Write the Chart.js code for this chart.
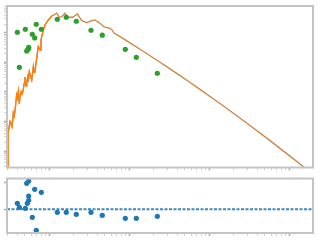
<!DOCTYPE html>
<html>
<head>
<meta charset="utf-8">
<script src="https://cdn.jsdelivr.net/npm/chart.js@4.4.0/dist/chart.umd.min.js"></script>
<style>
html, body { margin: 0; padding: 0; background: #fff; }
#wrap { position: relative; width: 320px; height: 240px; }
canvas { position: absolute; left: 0; top: 0; }
</style>
</head>
<body>
<div id="wrap">
  <canvas id="fitChart" width="320" height="240"></canvas>
  <canvas id="resChart" width="320" height="240"></canvas>
</div>
<script>
// observed points (green)
const obsX = [0.402, 0.426, 0.506, 0.526, 0.536, 0.557, 0.557, 0.618, 0.662, 0.693, 0.802, 1.270, 1.644, 2.193, 3.350, 4.634, 8.99, 12.34, 22.6];
const obsY = [1.056, 0.0687, 1.334, 0.245, 0.265, 0.327, 0.30, 0.904, 0.678, 1.972, 1.334, 2.911, 3.404, 2.494, 1.235, 0.842, 0.280, 0.150, 0.0431];

// model curve
const modelX = [0.303, 0.307, 0.316, 0.326, 0.335, 0.345, 0.358, 0.368, 0.379, 0.394, 0.404, 0.413, 0.426, 0.434, 0.447, 0.460, 0.477, 0.487, 0.501, 0.516,
  0.526, 0.539, 0.546, 0.567, 0.587, 0.608, 0.637, 0.653, 0.668, 0.698, 0.718, 0.735, 0.772, 0.794, 0.811, 0.849, 0.891, 0.980, 1.081, 1.155,
  1.248, 1.345, 1.442, 1.585, 1.742, 1.978, 2.259, 2.563, 2.958, 3.350, 3.758, 4.341, 4.870, 5.787, 6.218, 6.494, 7.716, 10.29, 13.73, 18.30,
  24.41, 32.54, 43.41, 57.87, 77.16, 118.9, 183.0, 325.5, 578.7, 1029, 1585];
const modelY = [1e-5, 4.51e-4, 6.03e-4, 9.84e-4, 8.22e-4, 6.67e-4, 1.94e-3, 1.53e-3, 2.87e-3, 7.91e-3, 6.26e-3, 0.0102, 3.92e-3, 7.31e-3, 0.0102, 8.55e-3, 0.0117, 0.0187, 0.0322, 0.0160,
  0.0202, 0.0299, 0.0218, 0.0488, 0.0348, 0.0255, 0.0721, 0.0476, 0.0557, 0.1216, 0.227, 0.344, 0.265, 0.579, 0.750, 1.264, 1.866, 2.759, 3.770, 4.074,
  4.652, 3.404, 3.570, 4.652, 3.404, 3.404, 4.406, 2.612, 2.234, 2.551, 2.759, 2.132, 1.597, 1.443, 1.216, 1.0, 0.750, 0.460, 0.280, 0.170,
  0.1016, 0.0607, 0.0358, 0.0210, 0.01225, 5.36e-3, 2.31e-3, 7.31e-4, 2.25e-4, 6.71e-5, 2.65e-5];
const noisyCount = 39; // high-res orange part at the start

// residuals (blue)
const resX = [0.402, 0.426, 0.506, 0.526, 0.536, 0.557, 0.557, 0.557, 0.618, 0.662, 0.693, 0.802, 1.270, 1.644, 2.193, 3.350, 4.634, 8.99, 12.34, 22.6];
const resY = [0.226, 0.075, 0.038, 0.977, 0.226, 1.064, 0.338, 0.5, -0.301, 0.752, -0.789, 0.639, -0.113, -0.113, -0.188, -0.113, -0.226, -0.338, -0.338, -0.263];

// axes
const xMin = 0.2985, xMax = 1995;
const yMin = 2.76e-5, yMax = 8.2;
const resMin = -0.89, resMax = 1.16;
const xDecades = [0.1, 1, 10, 100, 1000];
const yDecades = [1e-5, 1e-4, 1e-3, 1e-2, 0.1, 1];
const resTicks = [0, 1];

function logTicks(decades, lo, hi) {
  const out = [];
  decades.forEach(d => {
    for (let m = 1; m < 10; m++) {
      const v = d * m;
      if (v >= lo && v <= hi) out.push({value: v, major: m === 1});
    }
  });
  return out;
}

const pts = (xs, ys) => xs.map((x, i) => ({x: x, y: ys[i]}));

const framePlugin = {
  id: 'frame',
  afterDraw(chart) {
    const a = chart.chartArea, c = chart.ctx;
    c.save();
    c.strokeStyle = '#c4c4c4';
    c.lineWidth = 2;
    c.strokeRect(a.left, a.top, a.right - a.left, a.bottom - a.top);
    c.restore();
  }
};

const tickGrid = {
  drawOnChartArea: false,
  drawTicks: true,
  tickLength: 3,
  tickColor: ctx => (ctx.tick && ctx.tick.major) ? '#aaaaaa' : '#d2d2d2',
  tickWidth: ctx => (ctx.tick && ctx.tick.major) ? 1.5 : 1
};

function xAxis() {
  return {
    type: 'logarithmic', min: xMin, max: xMax,
    afterFit: s => { s.height = 0; },
    afterBuildTicks: s => { s.ticks = logTicks(xDecades, xMin, xMax); },
    ticks: {display: false, autoSkip: false},
    grid: tickGrid,
    border: {display: false}
  };
}

new Chart(document.getElementById('fitChart'), {
  type: 'scatter',
  data: {
    datasets: [
      {data: pts(obsX, obsY), backgroundColor: '#2ca02c', borderWidth: 0, pointRadius: 2.6},
      {data: pts(modelX.slice(0, noisyCount), modelY.slice(0, noisyCount)), showLine: true, pointRadius: 0,
        borderColor: '#ff7f0e', borderWidth: 1.4},
      {data: pts(modelX, modelY), showLine: true, pointRadius: 0, borderColor: '#cd8540', borderWidth: 1.3}
    ]
  },
  options: {
    responsive: false,
    animation: false,
    layout: {padding: {left: 7, right: 7, top: 6, bottom: 72.5}},
    plugins: {legend: {display: false}, tooltip: {enabled: false}},
    scales: {
      x: xAxis(),
      y: {
        type: 'logarithmic', min: yMin, max: yMax,
        afterFit: s => { s.width = 0; },
        afterBuildTicks: s => { s.ticks = logTicks(yDecades, yMin, yMax); },
        ticks: {display: false, autoSkip: false},
        grid: tickGrid,
        border: {display: false}
      }
    }
  },
  plugins: [framePlugin]
});

new Chart(document.getElementById('resChart'), {
  type: 'scatter',
  data: {
    datasets: [
      {data: pts(resX, resY), backgroundColor: '#1f77b4', borderWidth: 0, pointRadius: 2.6},
      {data: [{x: xMin, y: 0}, {x: xMax, y: 0}], showLine: true, pointRadius: 0,
        borderColor: '#3a89c2', borderWidth: 2, borderDash: [3, 1.5]}
    ]
  },
  options: {
    responsive: false,
    animation: false,
    layout: {padding: {left: 7, right: 7, top: 178.5, bottom: 7}},
    plugins: {legend: {display: false}, tooltip: {enabled: false}},
    scales: {
      x: xAxis(),
      y: {
        type: 'linear', min: resMin, max: resMax,
        afterFit: s => { s.width = 0; },
        afterBuildTicks: s => { s.ticks = resTicks.map(v => ({value: v, major: true})); },
        ticks: {display: false, autoSkip: false},
        grid: tickGrid,
        border: {display: false}
      }
    }
  },
  plugins: [framePlugin]
});
</script>
</body>
</html>
